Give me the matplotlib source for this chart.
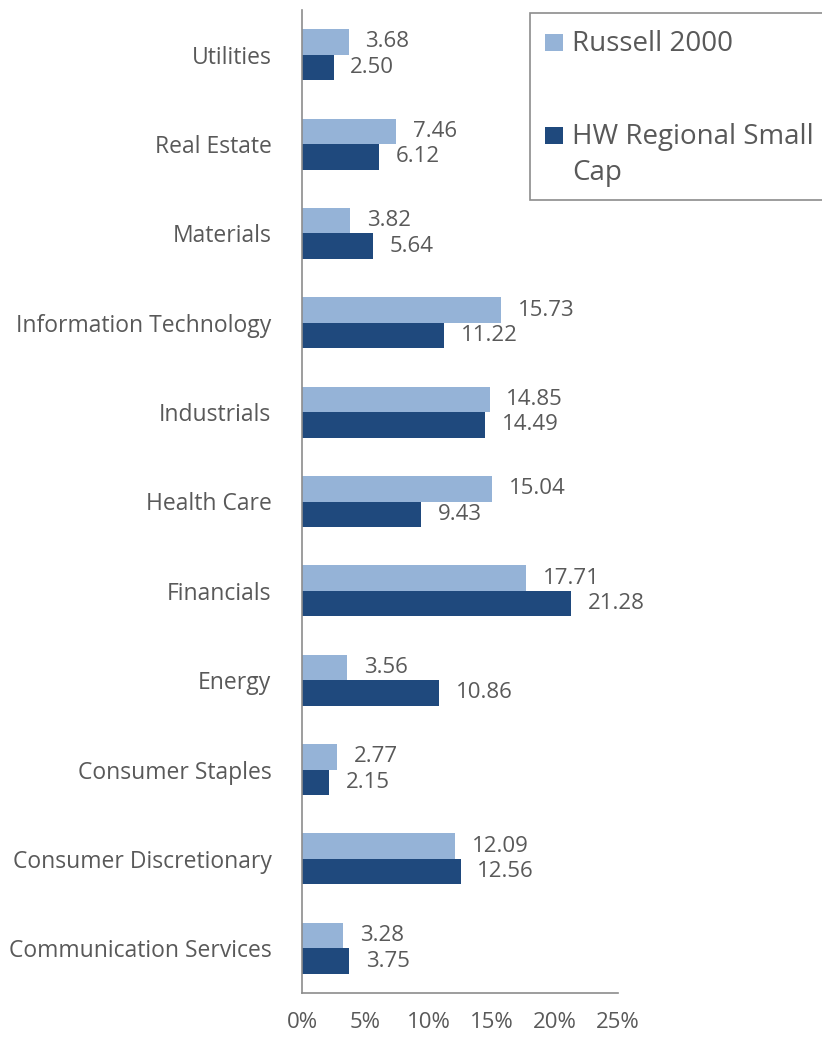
import numpy as np
import matplotlib.pyplot as plt
from matplotlib.patches import Rectangle

plt.rcParams['font.family'] = ['Open Sans', 'DejaVu Sans']

# categories listed bottom to top, as drawn
sectors = ['Communication Services', 'Consumer Discretionary', 'Consumer Staples',
           'Energy', 'Financials', 'Health Care', 'Industrials',
           'Information Technology', 'Materials', 'Real Estate', 'Utilities']
russell = [3.28, 12.09, 2.77, 3.56, 17.71, 15.04, 14.85, 15.73, 3.82, 7.46, 3.68]
hw_small = [3.75, 12.56, 2.15, 10.86, 21.28, 9.43, 14.49, 11.22, 5.64, 6.12, 2.50]
series_names = ['Russell 2000', 'HW Regional Small\nCap']
xticks = [0, 5, 10, 15, 20, 25]

light = '#95B3D7'
dark = '#1F497D'
grey_text = '#595959'
axis_grey = '#8C8C8C'

W, H = 822, 1039
fig = plt.figure(figsize=(W / 100, H / 100), dpi=100)
ax = fig.add_axes([302 / W, 1 - 993 / H, 316 / W, 983 / H])

y = np.arange(len(sectors))
h = 0.285
b1 = ax.barh(y + h / 2, russell, height=h, color=light)
b2 = ax.barh(y - h / 2, hw_small, height=h, color=dark)

ax.bar_label(b1, labels=[f'{v:.2f}' for v in russell], padding=12,
             fontsize=16, color=grey_text)
ax.bar_label(b2, labels=[f'{v:.2f}' for v in hw_small], padding=12,
             fontsize=16, color=grey_text)

ax.set_ylim(-0.5, len(sectors) - 0.5)
ax.set_xlim(0, 25)
ax.set_yticks(y)
ax.set_yticklabels(sectors, fontsize=16.5, color=grey_text)
ax.set_xticks(xticks)
ax.set_xticklabels([f'{t}%' for t in xticks], fontsize=16, color=grey_text)
ax.tick_params(axis='y', length=0, pad=22)
ax.tick_params(axis='x', length=0, pad=14)

for s in ['top', 'right']:
    ax.spines[s].set_visible(False)
for s in ['left', 'bottom']:
    ax.spines[s].set_color(axis_grey)
    ax.spines[s].set_linewidth(1.2)

# legend box, drawn by hand so the marker sits on the first line of the label
def px(x, yy):
    return x / W, 1 - yy / H

fig.patches.append(Rectangle(px(530, 200), 300 / W, 187 / H, transform=fig.transFigure,
                             facecolor='white', edgecolor=axis_grey, linewidth=1.2))
for (name, col, yc) in zip(series_names, [light, dark], [42, 135]):
    fig.patches.append(Rectangle(px(545, yc + 9), 18 / W, 17 / H, transform=fig.transFigure,
                                 facecolor=col, edgecolor='none'))
    fig.text(*px(572, yc - 12), name, fontsize=20, color=grey_text,
             va='top', ha='left', linespacing=1.4)

fig.savefig('out.png', dpi=100)
